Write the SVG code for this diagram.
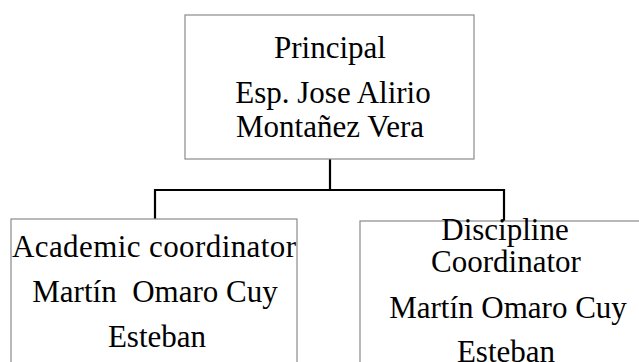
<svg xmlns="http://www.w3.org/2000/svg" width="639" height="362" viewBox="0 0 639 362">
<style>
.box{fill:#fff;stroke:#8a8a8a;stroke-width:1.2}
.t{font-family:"Liberation Serif","Times New Roman",serif;font-size:31px;fill:#000;text-anchor:middle}
.c{fill:none;stroke:#000;stroke-width:2.2}
</style>
<rect width="639" height="362" fill="#fff"/>
<g id="connectors">
<path class="c" d="M330,159 V190 M155,190 H504 M155,189 V219 M504,189 V221"/>
</g>
<g id="principal">
<rect class="box" x="185" y="15" width="289" height="144"/>
<text class="t" x="330" y="58">Principal</text>
<text class="t" x="333" y="103">Esp. Jose Alirio</text>
<text class="t" x="330" y="137">Montañez Vera</text>
</g>
<g id="academic">
<rect class="box" x="11" y="219" width="286" height="160"/>
<text class="t" x="154" y="257" textLength="284">Academic  coordinator</text>
<text class="t" x="155" y="302" xml:space="preserve">Martín  Omaro Cuy</text>
<text class="t" x="157" y="347">Esteban</text>
</g>
<g id="discipline">
<rect class="box" x="360" y="221" width="290" height="160"/>
<text class="t" x="505" y="240">Discipline</text>
<text class="t" x="506" y="272">Coordinator</text>
<text class="t" x="508" y="318">Martín Omaro Cuy</text>
<text class="t" x="506" y="362">Esteban</text>
</g>
</svg>
